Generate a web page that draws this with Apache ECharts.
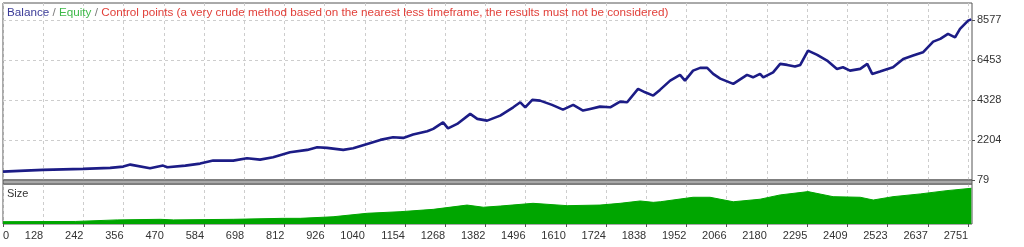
<!DOCTYPE html>
<html><head><meta charset="utf-8">
<script src="https://cdn.jsdelivr.net/npm/echarts@6/dist/echarts.min.js"></script>
<style>html,body{margin:0;padding:0;background:#fff}#c{width:1024px;height:247px}</style>
</head><body><div id="c"></div>
<script>
// x-axis tick positions (trade number) and their labels; left edge is labelled 0
const xTickValues = [14,128,242,356,470,584,698,812,926,1040,1154,1268,1382,1496,1610,1724,1838,1952,2066,2180,2295,2409,2523,2637,2751];
const xTickLabels = ['0','128','242','356','470','584','698','812','926','1040','1154','1268','1382','1496','1610','1724','1838','1952','2066','2180','2295','2409','2523','2637','2751'];
const yTickValues = [79,2204,4328,6453,8577];

// Balance curve (trade number, balance)
const balanceX = [14,77,128,241,318,355,375,431,468,480,531,573,610,667,706,743,780,828,877,905,933,979,1007,1047,1084,1120,1149,1177,1217,1234,1262,1276,1302,1339,1359,1387,1424,1461,1481,1495,1515,1537,1571,1602,1631,1659,1679,1707,1736,1764,1784,1815,1835,1858,1877,1906,1934,1948,1971,1991,2011,2028,2048,2085,2124,2141,2161,2170,2198,2218,2238,2260,2275,2297,2323,2351,2379,2396,2416,2445,2465,2479,2501,2538,2567,2595,2623,2652,2672,2694,2714,2728,2751,2760];
const balanceY = [525,578,615,669,722,791,897,700,844,754,844,950,1109,1109,1232,1162,1285,1550,1678,1816,1784,1678,1763,1996,2209,2347,2315,2490,2665,2793,3143,2825,3058,3590,3324,3234,3499,3940,4206,3940,4333,4296,4068,3818,4068,3765,3855,3977,3940,4243,4206,4917,4737,4561,4864,5358,5661,5358,5889,6033,6033,5714,5464,5183,5661,5533,5714,5533,5799,6245,6192,6102,6192,6951,6723,6420,5980,6065,5889,5980,6245,5714,5836,6065,6511,6686,6861,7429,7573,7838,7658,8104,8545,8610];

// Position size (lots)
const sizeX = [14,219,224,338,460,497,667,808,857,950,1047,1140,1234,1330,1376,1424,1517,1614,1707,1764,1821,1858,1878,1971,2019,2085,2161,2218,2297,2368,2445,2482,2538,2615,2691,2760];
const sizeY = [0.12,0.13,0.17,0.21,0.24,0.21,0.24,0.29,0.29,0.37,0.55,0.63,0.75,0.97,0.86,0.92,1.06,0.94,0.97,1.06,1.18,1.11,1.14,1.37,1.37,1.14,1.27,1.49,1.66,1.40,1.37,1.23,1.40,1.54,1.71,1.83];

const FONT = 'Liberation Sans';
const chart = echarts.init(document.getElementById('c'), null, {renderer:'canvas'});
const dashed = {show:true, lineStyle:{color:'#cdcdcd', type:[3,3], width:1}};
const xMin = 14, xMax = 2762;

chart.setOption({
  animation:false,
  backgroundColor:'#fff',
  title:{
    left:2, top:2,
    text:'{b|Balance} {s|/} {e|Equity} {s|/} {c|Control points (a very crude method based on the nearest less timeframe, the results must not be considered)}',
    textStyle:{fontFamily:FONT, fontSize:11.7, fontWeight:'normal',
      rich:{
        b:{color:'#3b3b98', fontFamily:FONT, fontSize:11.7},
        s:{color:'#7a7a7a', fontFamily:FONT, fontSize:11.7},
        e:{color:'#3fb94a', fontFamily:FONT, fontSize:11.7},
        c:{color:'#e2403a', fontFamily:FONT, fontSize:11.7}
      }}
  },
  grid:[
    {left:3, top:3, width:969, height:177, show:true, borderColor:'#555', borderWidth:1, backgroundColor:'#fff'},
    {left:3, top:184, width:969, height:40, show:true, borderColor:'#555', borderWidth:1, backgroundColor:'#fff'}
  ],
  xAxis:[
    {type:'value', gridIndex:0, min:xMin, max:xMax,
     axisLine:{show:false}, axisTick:{show:false, customValues:xTickValues},
     axisLabel:{show:false}, splitLine:dashed},
    {type:'value', gridIndex:1, min:xMin, max:xMax,
     axisLine:{show:false},
     axisTick:{show:true, length:3, customValues:xTickValues, lineStyle:{color:'#555'}},
     axisLabel:{show:true, customValues:xTickValues, align:'right', alignMinLabel:'left',
       margin:6, color:'#333', fontFamily:FONT, fontSize:11,
       formatter:(v)=>{const i = xTickValues.indexOf(v); return i>=0 ? xTickLabels[i] : '';}},
     splitLine:dashed}
  ],
  yAxis:[
    {type:'value', gridIndex:0, position:'right', min:79, max:9480,
     axisLine:{show:false},
     axisTick:{show:true, length:3, customValues:yTickValues, lineStyle:{color:'#555'}},
     axisLabel:{show:true, customValues:yTickValues, margin:5, color:'#333', fontFamily:FONT, fontSize:11,
       padding:[3,0,0,0],
       formatter:(v)=>String(Math.round(v))},
     splitLine:dashed},
    {type:'value', gridIndex:1, min:0, max:2.05, show:false, splitLine:{show:false}}
  ],
  graphic:[
    {type:'rect', shape:{x:3, y:180, width:969, height:4}, style:{fill:'#a9a9a9', stroke:'#555', lineWidth:1}, z:100},
    {type:'text', left:7, top:188, style:{text:'Size', fill:'#333', font:'11px "Liberation Sans"'}, z:100}
  ],
  series:[
    {type:'line', xAxisIndex:0, yAxisIndex:0, showSymbol:false, symbol:'none',
     lineStyle:{color:'#1c1c86', width:2.6}, data:balanceX.map((x,i)=>[x,balanceY[i]]), z:5},
    {type:'line', xAxisIndex:1, yAxisIndex:1, showSymbol:false, symbol:'none',
     lineStyle:{color:'#00a600', width:1}, areaStyle:{color:'#00a600', opacity:1},
     data:sizeX.map((x,i)=>[x,sizeY[i]]), z:5}
  ]
});
</script>
</body></html>
